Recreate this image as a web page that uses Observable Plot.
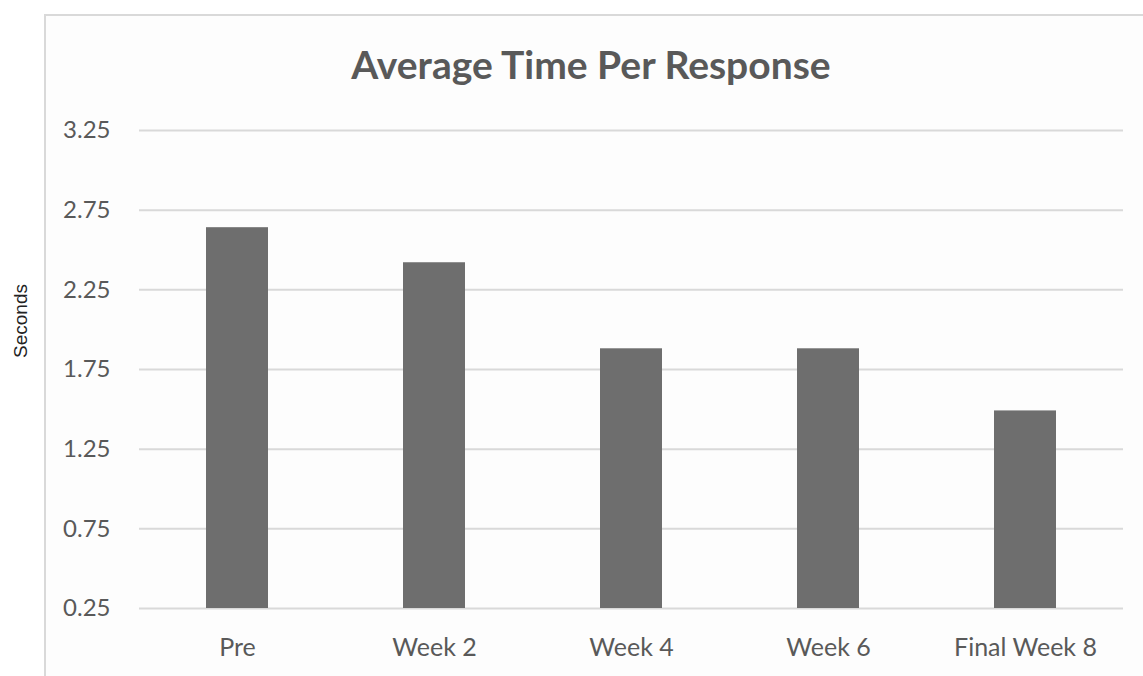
<!DOCTYPE html>
<html>
<head>
<meta charset="utf-8">
<script src="https://cdn.jsdelivr.net/npm/d3@7"></script>
<script src="https://cdn.jsdelivr.net/npm/@observablehq/plot@0.6"></script>
<style>
  html, body { margin: 0; padding: 0; background: #fff; }
  #wrap { position: relative; width: 1143px; height: 676px; overflow: hidden; background: #fff; font-family: Lato, "Open Sans", sans-serif; }
  #frame { position: absolute; left: 44px; top: 14px; width: 1200px; height: 800px; border: 2px solid #d9d9d9; box-sizing: border-box; background: #fdfdfd; }
  #title { position: absolute; left: 0; width: 1182px; top: 40px; text-align: center; font-family: Lato, sans-serif; font-weight: 700; font-size: 39px; color: #595959; margin: 0; line-height: 48px; }
  #ylabel { position: absolute; left: 21px; top: 321px; transform: translate(-50%, -50%) rotate(-90deg); font-family: "Liberation Sans", Arial, sans-serif; font-size: 19px; color: #222; white-space: nowrap; }
  #chart { position: absolute; left: 0; top: 0; }
</style>
</head>
<body>
<div id="wrap">
  <div id="frame"></div>
  <div id="title">Average Time Per Response</div>
  <div id="ylabel">Seconds</div>
  <div id="chart"></div>
</div>
<script>
const categories = ["Pre", "Week 2", "Week 4", "Week 6", "Final Week 8"];
const seconds = [2.64, 2.42, 1.88, 1.88, 1.49];
const yTicks = [0.25, 0.75, 1.25, 1.75, 2.25, 2.75, 3.25];

const data = categories.map((c, i) => ({category: c, value: seconds[i]}));

const plot = Plot.plot({
  width: 1143,
  height: 676,
  marginLeft: 139,
  marginRight: 20,
  marginTop: 130,
  marginBottom: 68,
  style: {background: "transparent", fontFamily: "Lato, 'Open Sans', sans-serif", fontSize: "24px", color: "#595959"},
  x: {domain: categories, paddingInner: 0.686, paddingOuter: 0.334, align: 0.5, label: null},
  y: {domain: [0.25, 3.25], ticks: yTicks, label: null},
  marks: [
    Plot.gridY(yTicks, {stroke: "#d9d9d9", strokeOpacity: 1, strokeWidth: 2}),
    Plot.barY(data, {x: "category", y1: 0.25, y2: "value", fill: "#6e6e6e"}),
    Plot.axisY({ticks: yTicks, tickSize: 0, tickPadding: 29, tickFormat: d => d.toFixed(2), fontSize: 24, fill: "#595959", label: null}),
    Plot.axisX({tickSize: 0, tickPadding: 30, fontSize: 25, fill: "#595959", label: null})
  ]
});
document.getElementById("chart").appendChild(plot);
</script>
</body>
</html>
